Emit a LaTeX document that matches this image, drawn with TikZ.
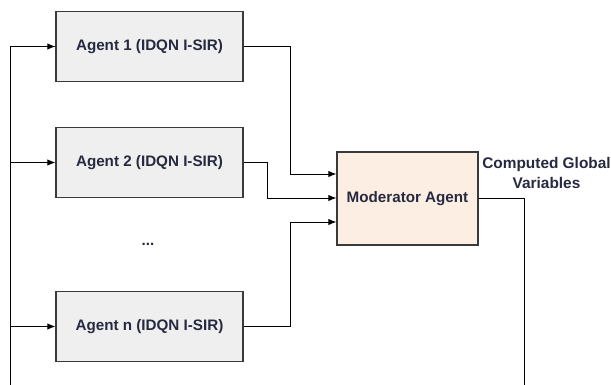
\documentclass[tikz,border=0pt]{standalone}
\usepackage{fontspec}
\setmainfont{Liberation Sans}
\usetikzlibrary{arrows.meta}
\definecolor{agentfill}{HTML}{EFEFEF}
\definecolor{modfill}{HTML}{FCEEE2}
\definecolor{edgegray}{HTML}{3A3A3A}
\definecolor{labelink}{HTML}{262A40}
\begin{document}
\begin{tikzpicture}[x=1pt,y=-1pt,
  box/.style={draw=edgegray,line width=1.3pt,minimum width=187pt,minimum height=70pt,
    inner sep=0pt,font=\fontsize{15.2}{18}\selectfont\bfseries,text=labelink},
  agentbox/.style={box,fill=agentfill},
  modbox/.style={box,fill=modfill,minimum width=141pt,minimum height=93pt},
  wire/.style={draw=black,line width=1pt},
  feed/.style={wire,-{Latex[length=8pt,width=6.5pt]}},
  note/.style={font=\fontsize{15.4}{20.5}\selectfont\bfseries,text=labelink,align=center,inner sep=0pt}]
\clip (0,0) rectangle (611,384);
\fill[white] (0,0) rectangle (611,384);

\node[agentbox] (a1) at (149.5,46.5) {Agent 1 (IDQN I-SIR)};
\node[agentbox] (a2) at (149.5,162.5) {Agent 2 (IDQN I-SIR)};
\node[agentbox] (an) at (149.5,326.5) {Agent n (IDQN I-SIR)};
\node[modbox] (mod) at (407.5,198.5) {Moderator Agent};
\node[font=\fontsize{15}{18}\selectfont\bfseries,text=labelink] (dots) at (148,244) {...};
\node[note] (cgv) at (546.5,173) {Computed Global\\Variables};

% corner points of the feedback loop, just below the lower edge
\coordinate (cr) at (524,388);
\coordinate (cl) at (10,388);

% agent outputs into the moderator
\draw[feed] (a1.east) -| (290,174) -- (mod.west |- 0,174);
\draw[feed] (a2.east) -| (267,198) -- (mod.west |- 0,198);
\draw[feed] (an.east) -| (290,222) -- (mod.west |- 0,222);

% moderator output fed back to every agent
\draw[wire] (mod.east) -| (cr) -- (cl) |- (a1.west);
\draw[feed] (cl) |- (a1.west);
\draw[feed] (cl |- a2.west) -- (a2.west);
\draw[feed] (cl |- an.west) -- (an.west);
\end{tikzpicture}
\end{document}
